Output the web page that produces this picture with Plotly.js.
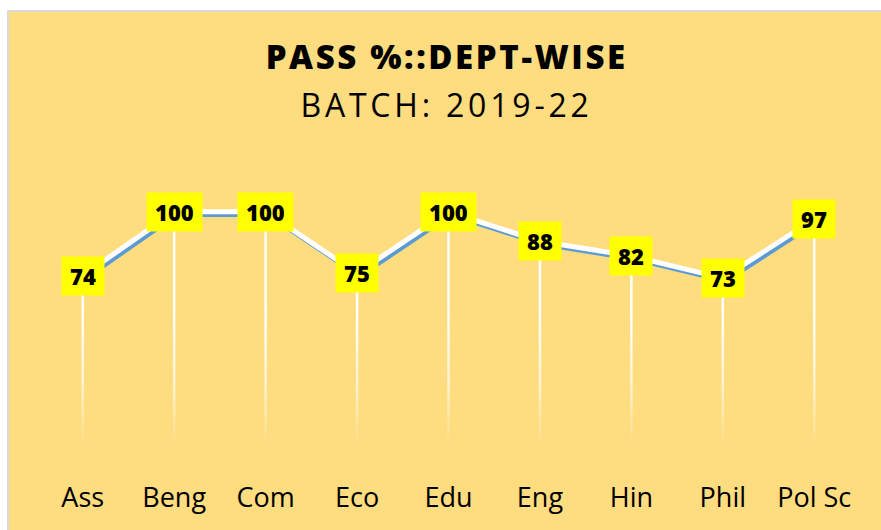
<!DOCTYPE html>
<html><head><meta charset="utf-8">
<script src="https://cdn.plot.ly/plotly-3.0.1.min.js"></script>
<style>
html,body{margin:0;padding:0;background:#fff;width:881px;height:530px;overflow:hidden;}
#frame{position:absolute;left:7px;top:10px;width:874px;height:520px;border-left:2px solid #d9d9d9;border-top:2px solid #d9d9d9;box-sizing:border-box;}
#chart{position:absolute;left:9px;top:12px;width:872px;height:518px;}
</style></head><body>
<div id="frame"></div><div id="chart"></div>
<script>
// ---- data ----
const departments = ['Ass', 'Beng', 'Com', 'Eco', 'Edu', 'Eng', 'Hin', 'Phil', 'Pol Sc'];
const passPercent = [74, 100, 100, 75, 100, 88, 82, 73, 97];
const titleText = 'PASS %::DEPT-WISE';
const subtitleText = 'BATCH: 2019-22';

// ---- style ----
const bg = '#FEDC80';
const W = 872, H = 518;
const M = {l: 28, r: 21, t: 163, b: 53};
const yRange = [-8, 115];
const xRange = [-0.5, departments.length - 0.5];
const pxPerCat = (W - M.l - M.r) / (xRange[1] - xRange[0]);
const pxPerUnit = (H - M.t - M.b) / (yRange[1] - yRange[0]);
const shadowDx = 2.5, shadowDy = 3;

const blueShadow = {
  x: departments, y: passPercent, type: 'scatter', mode: 'lines',
  xaxis: 'x', yaxis: 'y', hoverinfo: 'skip', showlegend: false,
  line: {color: '#5B9BD5', width: 4.5}
};
const whiteLine = {
  x: departments, y: passPercent, type: 'scatter', mode: 'lines',
  xaxis: 'x2', yaxis: 'y2', showlegend: false, name: 'Pass %',
  line: {color: '#FFFFFF', width: 5},
  error_y: {type: 'data', symmetric: false, array: passPercent.map(() => 0),
            arrayminus: passPercent, color: '#FFFFFF', thickness: 2.5, width: 0}
};

const fadeSvg = "<svg xmlns='http://www.w3.org/2000/svg' width='100' height='100' viewBox='0 0 100 100' preserveAspectRatio='none'>" +
  "<defs><linearGradient id='g' x1='0' y1='0' x2='0' y2='1'>" +
  "<stop offset='0' stop-color='" + bg + "' stop-opacity='0'/>" +
  "<stop offset='0.45' stop-color='" + bg + "' stop-opacity='0.35'/>" +
  "<stop offset='0.82' stop-color='" + bg + "' stop-opacity='1'/>" +
  "<stop offset='1' stop-color='" + bg + "' stop-opacity='1'/>" +
  "</linearGradient></defs><rect width='100' height='100' fill='url(#g)'/></svg>";

const labelAnnotations = departments.map((d, i) => ({
  x: d, y: passPercent[i], xref: 'x2', yref: 'y2',
  text: String(passPercent[i]), showarrow: false,
  xanchor: 'center', yanchor: 'middle',
  bgcolor: '#FFFF00', borderpad: 8, height: 22,
  font: {family: 'Open Sans', size: 22, color: '#000', weight: 800}
}));

const layout = {
  width: W, height: H,
  margin: M,
  paper_bgcolor: bg, plot_bgcolor: 'rgba(0,0,0,0)',
  showlegend: false,
  title: {
    text: titleText, xref: 'container', x: 0.502, xanchor: 'center',
    yref: 'container', y: 1 - 45.7 / H, yanchor: 'middle',
    font: {family: 'Open Sans', size: 33, color: '#000', weight: 800}
  },
  xaxis: {type: 'category', range: [xRange[0] - shadowDx / pxPerCat, xRange[1] - shadowDx / pxPerCat],
          showticklabels: false, showgrid: false, zeroline: false, showline: false, fixedrange: true},
  yaxis: {range: [yRange[0] + shadowDy / pxPerUnit, yRange[1] + shadowDy / pxPerUnit],
          showticklabels: false, showgrid: false, zeroline: false, showline: false, fixedrange: true},
  xaxis2: {type: 'category', overlaying: 'x', anchor: 'y2', side: 'bottom', range: xRange,
           showgrid: false, zeroline: false, showline: false, ticks: '',
           tickfont: {family: 'Open Sans', size: 27, color: '#000'}, ticklabelstandoff: 2},
  yaxis2: {overlaying: 'y', anchor: 'x2', range: yRange,
           showticklabels: false, showgrid: false, zeroline: false, showline: false},
  images: [{
    source: 'data:image/svg+xml;charset=utf-8,' + encodeURIComponent(fadeSvg),
    xref: 'paper', yref: 'paper', x: 0, y: 0.56, sizex: 1, sizey: 0.56,
    xanchor: 'left', yanchor: 'top', sizing: 'stretch', layer: 'above'
  }],
  annotations: labelAnnotations.concat([{
    xref: 'paper', yref: 'paper', x: 0.4978, y: 1 + (M.t - 93) / (H - M.t - M.b), xanchor: 'center', yanchor: 'middle',
    text: subtitleText, showarrow: false,
    font: {family: 'Open Sans', size: 32, color: '#000'}
  }])
};

Plotly.newPlot('chart', [blueShadow, whiteLine], layout, {displayModeBar: false, staticPlot: true}).then(gd => {
  gd.querySelectorAll('.gtitle').forEach(t => { t.style.letterSpacing = '2.6px'; });
  gd.querySelectorAll('.annotation-text').forEach(t => {
    if (t.textContent === subtitleText) t.style.letterSpacing = '3.8px';
  });
});
</script>
</body></html>
